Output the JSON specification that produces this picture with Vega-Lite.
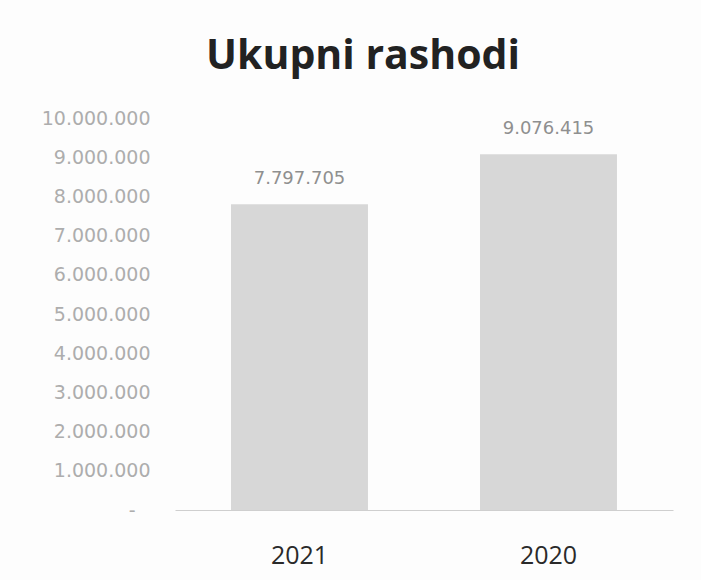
{
  "$schema": "https://vega.github.io/schema/vega-lite/v6.json",
  "width": 498,
  "height": 392,
  "autosize": "none",
  "padding": {"left": 175, "top": 118, "right": 28, "bottom": 70},
  "background": "#fdfdfd",
  "config": {
    "locale": {"number": {"decimal": ",", "thousands": ".", "grouping": [3], "currency": ["", ""]}},
    "view": {"stroke": null}
  },
  "title": {
    "text": "Ukupni rashodi",
    "font": "Open Sans",
    "fontWeight": "bold",
    "fontSize": 41,
    "color": "#222222",
    "anchor": "middle",
    "baseline": "alphabetic",
    "offset": -1,
    "dx": -61
  },
  "data": {
    "values": [
      {"godina": "2021", "iznos": 7797705},
      {"godina": "2020", "iznos": 9076415}
    ]
  },
  "encoding": {
    "x": {
      "field": "godina",
      "type": "nominal",
      "sort": null,
      "scale": {"paddingInner": 0.45, "paddingOuter": 0.225},
      "axis": {
        "title": null,
        "labelAngle": 0,
        "ticks": false,
        "tickSize": 0,
        "labelPadding": 33,
        "labelFont": "Open Sans",
        "labelFontSize": 25,
        "labelColor": "#2a2a2a",
        "domainColor": "#cfcfcf",
        "domainWidth": 1
      }
    },
    "y": {
      "field": "iznos",
      "type": "quantitative",
      "scale": {"domain": [0, 10000000], "nice": false},
      "axis": {
        "title": null,
        "values": [0, 1000000, 2000000, 3000000, 4000000, 5000000, 6000000, 7000000, 8000000, 9000000, 10000000],
        "format": ",d",
        "labelExpr": "datum.value == 0 ? '-' : datum.label",
        "grid": false,
        "domain": false,
        "ticks": false,
        "tickSize": 0,
        "labelPadding": {"condition": {"test": "datum.value == 0", "value": 40}, "value": 25},
        "labelFont": "DejaVu Sans",
        "labelFontSize": 19,
        "labelColor": "#adadad"
      }
    }
  },
  "layer": [
    {"mark": {"type": "bar", "color": "#d7d7d7"}},
    {
      "mark": {"type": "text", "baseline": "alphabetic", "dy": -20, "font": "DejaVu Sans", "fontSize": 18, "color": "#8f8f8f"},
      "encoding": {"text": {"field": "iznos", "type": "quantitative", "format": ",d"}}
    }
  ]
}
